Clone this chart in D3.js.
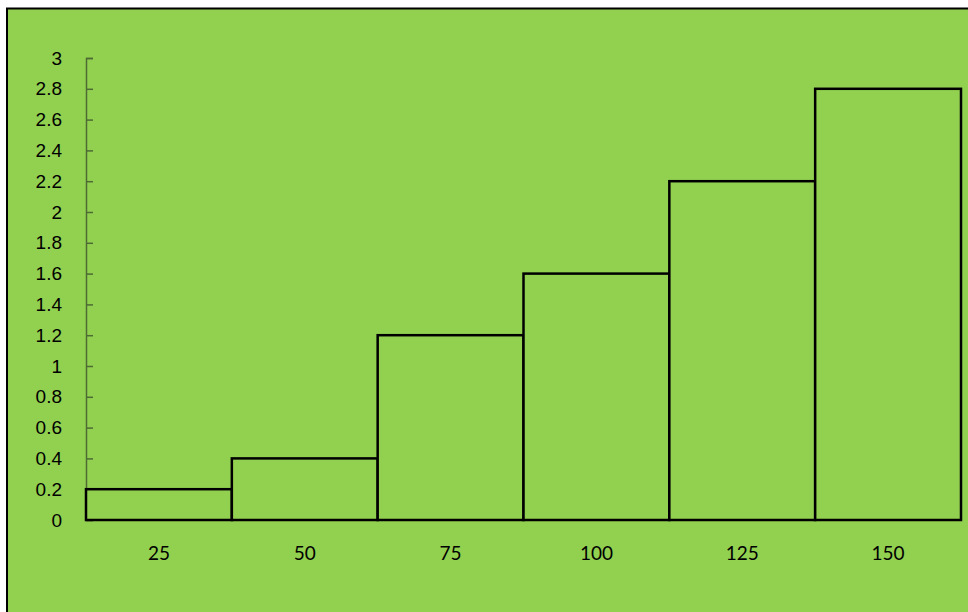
<!DOCTYPE html>
<html>
<head>
<meta charset="utf-8">
<script src="https://cdn.jsdelivr.net/npm/d3@7"></script>
<style>
  body { margin: 0; background: #fff; }
  svg { display: block; font-family: "Comic Sans MS", "Lato", sans-serif; }
</style>
</head>
<body>
<div class="chart"></div>
<script>
const categories = ['25', '50', '75', '100', '125', '150']
const values = [0.2, 0.4, 1.2, 1.6, 2.2, 2.8]
const yTicks = [0, 0.2, 0.4, 0.6, 0.8, 1, 1.2, 1.4, 1.6, 1.8, 2, 2.2, 2.4, 2.6, 2.8, 3]

const width = 968
const height = 612
const margin = { top: 58, left: 86, right: 7, bottom: 92 }

const svg = d3.select('.chart')
    .append('svg')
    .attr('width', width)
    .attr('height', height)

// background panel, only top and left edges are visible
svg.append('rect')
    .attr('x', 7)
    .attr('y', 8.5)
    .attr('width', width + 20)
    .attr('height', height + 20)
    .attr('fill', '#92D050')
    .attr('stroke', '#000')
    .attr('stroke-width', 2)

const x = d3.scaleBand()
    .domain(categories)
    .range([margin.left, width - margin.right])
    .padding(0)

const y = d3.scaleLinear()
    .domain([0, 3])
    .range([height - margin.bottom, margin.top])

// y axis
const yAxis = svg.append('g')
    .attr('transform', `translate(${margin.left},0)`)
    .call(d3.axisRight(y).tickValues(yTicks).tickSize(7).tickFormat(d3.format('~g')))

yAxis.select('.domain').attr('stroke', '#4d6b33').attr('stroke-width', 1.5)
yAxis.selectAll('.tick line').attr('stroke', '#4d6b33').attr('stroke-width', 1.5)
yAxis.selectAll('.tick text')
    .attr('x', -24)
    .attr('text-anchor', 'end')
    .attr('fill', '#000')
    .attr('font-size', 19)

// bars
svg.selectAll('rect.bar')
    .data(values)
    .enter()
    .append('rect')
    .attr('class', 'bar')
    .attr('x', (d, i) => x(categories[i]))
    .attr('y', d => y(d))
    .attr('width', x.bandwidth())
    .attr('height', d => y(0) - y(d))
    .attr('fill', '#92D050')
    .attr('stroke', '#000')
    .attr('stroke-width', 2.5)

// x labels
svg.selectAll('text.xlab')
    .data(categories)
    .enter()
    .append('text')
    .attr('class', 'xlab')
    .attr('x', d => x(d) + x.bandwidth() / 2)
    .attr('y', height - margin.bottom + 33)
    .attr('dy', '0.35em')
    .attr('text-anchor', 'middle')
    .attr('font-size', 19)
    .text(d => d)
</script>
</body>
</html>
